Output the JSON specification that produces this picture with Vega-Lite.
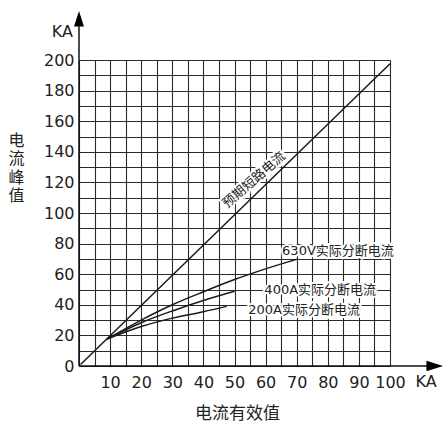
{
  "$schema": "https://vega.github.io/schema/vega-lite/v6.json",
  "autosize": {"type": "none"},
  "width": 311,
  "height": 306,
  "padding": {"left": 79, "top": 60, "right": 54, "bottom": 62},
  "background": "white",
  "config": {"view": {"stroke": null}, "text": {"font": "DejaVu Sans"}},
  "datasets": {
    "curves": [
      {"series": "630V", "x": 9, "y": 17.6},
      {"series": "630V", "x": 20, "y": 30},
      {"series": "630V", "x": 30, "y": 40},
      {"series": "630V", "x": 40, "y": 48.5},
      {"series": "630V", "x": 50, "y": 56.5},
      {"series": "630V", "x": 60, "y": 63.5},
      {"series": "630V", "x": 70.5, "y": 70},
      {"series": "400A", "x": 9, "y": 17.6},
      {"series": "400A", "x": 20, "y": 28.3},
      {"series": "400A", "x": 30, "y": 36},
      {"series": "400A", "x": 40, "y": 42.8},
      {"series": "400A", "x": 50, "y": 48.8},
      {"series": "200A", "x": 9, "y": 17.6},
      {"series": "200A", "x": 20, "y": 25.8},
      {"series": "200A", "x": 30, "y": 31.3},
      {"series": "200A", "x": 40, "y": 35.5},
      {"series": "200A", "x": 47.5, "y": 39}
    ],
    "diag": [
      {"x": 0.5, "y": 1},
      {"x": 100, "y": 197.5}
    ],
    "labels": [
      {"text": "630V实际分断电流", "x": 65.3, "y": 75.2},
      {"text": "400A实际分断电流", "x": 59.6, "y": 49.9},
      {"text": "200A实际分断电流", "x": 54.4, "y": 36.3}
    ],
    "diagLabel": [
      {"text": "预期短路电流", "x": 56.3, "y": 121.6}
    ],
    "unitLabels": [
      {"text": "KA", "axis": "x", "x": 111.6, "y": 0},
      {"text": "KA", "axis": "y", "x": 0, "y": 218}
    ]
  },
  "encoding": {
    "x": {
      "field": "x", "type": "quantitative",
      "scale": {"domain": [0, 100], "nice": false, "zero": false},
      "axis": {
        "values": [0, 5, 10, 15, 20, 25, 30, 35, 40, 45, 50, 55, 60, 65, 70, 75, 80, 85, 90, 95, 100],
        "labelExpr": "datum.value % 10 === 0 && datum.value > 0 ? datum.label : ''",
        "grid": true, "gridColor": "#2a2a2a", "gridWidth": 1.1, "gridOpacity": 1,
        "domain": false, "ticks": false, "tickSize": 0,
        "labelFont": "DejaVu Sans", "labelFontSize": 16, "labelColor": "#222",
        "labelPadding": 8, "labelFlush": false, "labelOverlap": false, "labelBound": false,
        "title": "电流有效值", "titleFont": "Noto Sans CJK SC", "titleFontSize": 17,
        "titleFontWeight": "normal", "titleColor": "#222",
        "titleX": 158, "titleY": 47, "titleBaseline": "middle", "titleAlign": "center"
      }
    },
    "y": {
      "field": "y", "type": "quantitative",
      "scale": {"domain": [0, 200], "nice": false, "zero": false},
      "axis": {
        "values": [0, 10, 20, 30, 40, 50, 60, 70, 80, 90, 100, 110, 120, 130, 140, 150, 160, 170, 180, 190, 200],
        "labelExpr": "datum.value % 20 === 0 ? datum.label : ''",
        "grid": true, "gridColor": "#2a2a2a", "gridWidth": 1.1, "gridOpacity": 1,
        "domain": false, "ticks": false, "tickSize": 0,
        "labelFont": "DejaVu Sans", "labelFontSize": 16, "labelColor": "#222",
        "labelPadding": 5, "labelOverlap": false, "labelFlush": false, "labelBound": false,
        "title": ["电", "流", "峰", "值"], "titleFont": "Noto Sans CJK SC", "titleFontSize": 16,
        "titleFontWeight": "normal", "titleColor": "#222", "titleAngle": 0,
        "titleX": -63, "titleY": 72, "titleBaseline": "top", "titleAlign": "center",
        "titleLineHeight": 18.5
      }
    }
  },
  "layer": [
    {
      "data": {"name": "curves"},
      "mark": {"type": "line", "interpolate": "monotone", "color": "#1a1a1a", "strokeWidth": 1.5, "clip": false},
      "encoding": {"detail": {"field": "series"}}
    },
    {
      "data": {"name": "diag"},
      "mark": {"type": "line", "color": "#1a1a1a", "strokeWidth": 1.5, "clip": false},
      "encoding": {}
    },
    {
      "data": {"name": "diag"},
      "transform": [{"filter": "datum.x < 1"}],
      "mark": {"type": "rule", "color": "#111", "strokeWidth": 1.5, "clip": false},
      "encoding": {
        "x": {"datum": 0, "type": "quantitative"},
        "x2": {"datum": 112},
        "y": {"datum": 0, "type": "quantitative"}
      }
    },
    {
      "data": {"name": "diag"},
      "transform": [{"filter": "datum.x < 1"}],
      "mark": {"type": "rule", "color": "#111", "strokeWidth": 1.5, "clip": false},
      "encoding": {
        "x": {"datum": 0, "type": "quantitative"},
        "y": {"datum": 0, "type": "quantitative"},
        "y2": {"datum": 222}
      }
    },
    {
      "data": {"name": "diag"},
      "transform": [{"filter": "datum.x < 1"}],
      "mark": {"type": "point", "shape": "M-1,-0.64L1,0L-1,0.64Z", "filled": true, "color": "#000", "size": 279, "opacity": 1, "clip": false},
      "encoding": {
        "x": {"datum": 114.4, "type": "quantitative"},
        "y": {"datum": 0, "type": "quantitative"}
      }
    },
    {
      "data": {"name": "diag"},
      "transform": [{"filter": "datum.x < 1"}],
      "mark": {"type": "point", "shape": "M0,-1L0.64,1L-0.64,1Z", "filled": true, "color": "#000", "size": 240, "opacity": 1, "clip": false},
      "encoding": {
        "x": {"datum": 0, "type": "quantitative"},
        "y": {"datum": 227, "type": "quantitative"}
      }
    },
    {
      "data": {"name": "labels"},
      "mark": {"type": "text", "align": "left", "baseline": "middle", "font": "DejaVu Sans, Noto Sans CJK SC", "fontSize": 13, "stroke": "white", "strokeWidth": 4, "color": "white", "clip": false},
      "encoding": {"text": {"field": "text"}}
    },
    {
      "data": {"name": "labels"},
      "mark": {"type": "text", "align": "left", "baseline": "middle", "font": "DejaVu Sans, Noto Sans CJK SC", "fontSize": 13, "color": "#222", "clip": false},
      "encoding": {"text": {"field": "text"}}
    },
    {
      "data": {"name": "diagLabel"},
      "mark": {"type": "text", "align": "center", "baseline": "middle", "angle": -41, "font": "Noto Sans CJK SC", "fontSize": 13, "stroke": "white", "strokeWidth": 4, "color": "white", "clip": false},
      "encoding": {"text": {"field": "text"}}
    },
    {
      "data": {"name": "diagLabel"},
      "mark": {"type": "text", "align": "center", "baseline": "middle", "angle": -41, "font": "Noto Sans CJK SC", "fontSize": 13, "color": "#222", "clip": false},
      "encoding": {"text": {"field": "text"}}
    },
    {
      "data": {"name": "unitLabels"},
      "transform": [{"filter": "datum.axis === 'y'"}],
      "mark": {"type": "text", "align": "right", "baseline": "middle", "dx": -6, "font": "DejaVu Sans", "fontSize": 16, "color": "#222", "clip": false},
      "encoding": {"text": {"field": "text"}}
    },
    {
      "data": {"name": "unitLabels"},
      "transform": [{"filter": "datum.axis === 'x'"}],
      "mark": {"type": "text", "align": "center", "baseline": "top", "dy": 8, "font": "DejaVu Sans", "fontSize": 16, "color": "#222", "clip": false},
      "encoding": {"text": {"field": "text"}}
    }
  ]
}
